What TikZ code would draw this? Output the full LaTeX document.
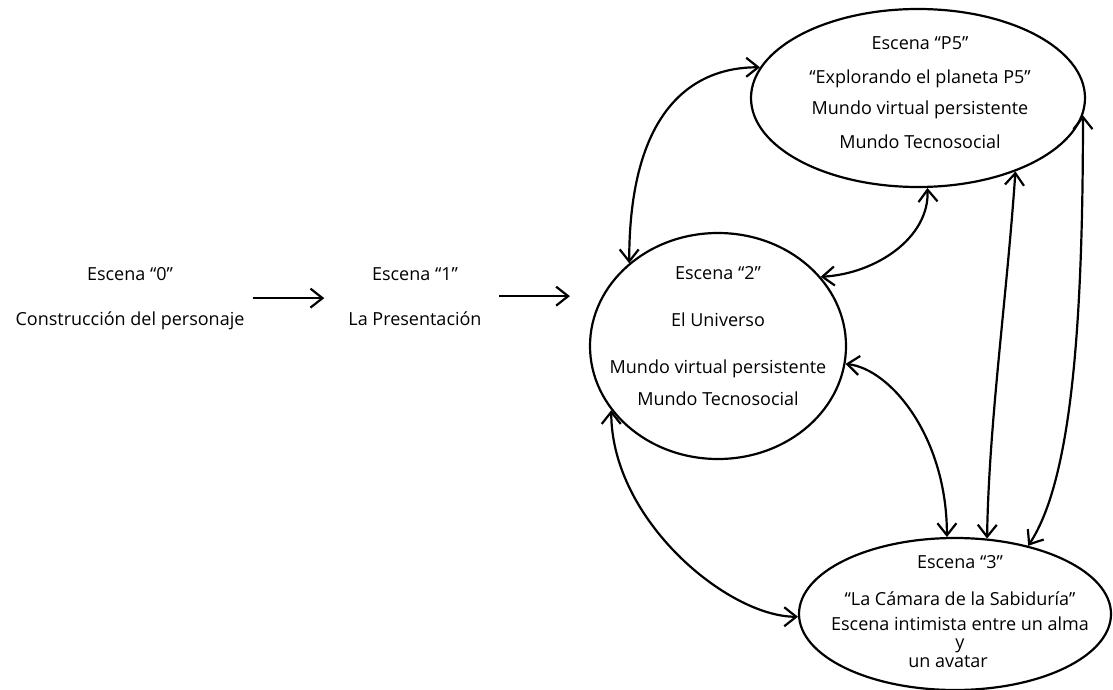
\documentclass[tikz,border=0pt]{standalone}
\usepackage{fontspec}
\setmainfont{Open Sans}
\usetikzlibrary{arrows.meta,shapes.geometric}
\tikzset{
  scene/.style={ellipse,draw,line width=2.2pt,inner sep=0},
  lines/.style={align=center,inner sep=0,anchor=base,font=\fontsize{18}{22}\selectfont},
  flow/.style={-{Straight Barb[length=12pt,width=19pt]},line width=2.2pt},
  link/.style={{Straight Barb[length=12pt,width=19pt]}-{Straight Barb[length=12pt,width=19pt]},line width=2.2pt},
}
\begin{document}
\begin{tikzpicture}[x=1pt,y=-1pt]
  \useasboundingbox (0,0) rectangle (1113,690);
  % the three worlds
  \node[scene,minimum width=334pt,minimum height=178pt] (planeta) at (918,98) {};
  \node[scene,minimum width=256pt,minimum height=226pt] (universo) at (718,346) {};
  \node[scene,minimum width=312pt,minimum height=152pt] (camara) at (955,614) {};
  % what each scene says (placed by the baseline of the last line)
  \node[lines] (esc0) at (130,325) {Escena “0”\\[23pt]Construcción del personaje};
  \node[lines] (esc1) at (415,325) {Escena “1”\\[23pt]La Presentación};
  \node[lines] (p5txt) at (920,148) {Escena “P5”\\[11pt]“Explorando el planeta P5”\\[10pt]Mundo virtual persistente\\[11pt]Mundo Tecnosocial};
  \node[lines] (unitxt) at (718,405) {Escena “2”\\[25pt]El Universo\\[25pt]Mundo virtual persistente\\[10pt]Mundo Tecnosocial};
  \node[lines] (camtxt) at (960,667) {Escena “3”\\[15pt]“La Cámara de la Sabiduría”\\[3pt]Escena intimista entre un alma\\[-4pt]y\hspace*{44pt}\\[-3pt]un avatar\hspace*{24pt}};
  % the way in
  \draw[flow,shorten <=8pt,shorten >=24pt] (esc0.east) -- (esc0.east -| esc1.west);
  \draw[flow,shorten <=17pt,shorten >=19pt] (esc1.east) -- (esc1.east -| universo.west);
  % going back and forth
  \draw[link] (universo.137) .. controls +(0,-150) and +(-70,0) .. (planeta.169);
  \draw[link] (universo.34) .. controls +(55,-3) and +(2,50) .. (planeta.-84);
  \draw[link] (universo.-8) .. controls +(45,5) and +(0,-100) .. (camara.96);
  \draw[link] (planeta.-37) .. controls +(-9,130) and +(2,-117) .. (camara.67);
  \draw[link] (planeta.-6) .. controls +(0,213) and +(43,-65) .. (camara.43);
  \draw[link] (universo.211) .. controls +(0,110) and +(-70,0) .. (camara.181);
\end{tikzpicture}
\end{document}
